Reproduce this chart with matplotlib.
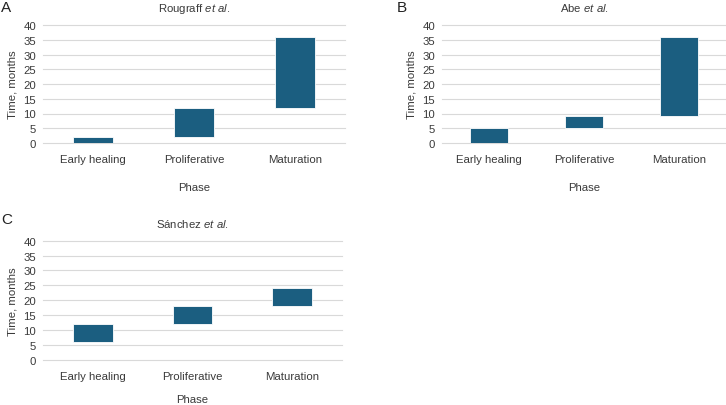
import matplotlib
matplotlib.use("Agg")
import matplotlib.pyplot as plt

plt.rcParams['font.family'] = ['Liberation Sans', 'DejaVu Sans']
plt.rcParams['mathtext.fontset'] = 'custom'
plt.rcParams['mathtext.rm'] = 'Liberation Sans'
plt.rcParams['mathtext.it'] = 'Liberation Sans:italic'

phases = ["Early healing", "Proliferative", "Maturation"]

# start / end of each phase, months
rougraff_start = [0, 2, 12]
rougraff_end = [2, 12, 36]
abe_start = [0, 5, 9]
abe_end = [5, 9, 36]
sanchez_start = [6, 12, 18]
sanchez_end = [12, 18, 24]

titles = [r"Rougraff $\it{et\ al.}$", r"Abe $\it{et\ al.}$", r"Sánchez $\it{et\ al.}$"]
letters = ["A", "B", "C"]
yticks = [0, 5, 10, 15, 20, 25, 30, 35, 40]

bar_color = "#1b5e80"
grid_color = "#d9d9d9"
text_color = "#3a3a3a"
fs = 8.2

W, H = 726, 406
fig = plt.figure(figsize=(W / 100, H / 100), dpi=100)

# axes boxes in pixels: left, right, top(y=40), bottom(y=0)
boxes = [(43, 345, 26, 144), (442, 726, 26, 144), (43, 342, 241.7, 360.7)]
data = [(rougraff_start, rougraff_end), (abe_start, abe_end), (sanchez_start, sanchez_end)]
letter_pos = [(1, 1), (397, 1), (1, 213)]
phase_pads = [13, 13, 9.5]

for i, ((l, r, t, b), (st, en)) in enumerate(zip(boxes, data)):
    ax = fig.add_axes([l / W, 1 - b / H, (r - l) / W, (b - t) / H])
    heights = [e - s for s, e in zip(st, en)]
    ax.bar(range(len(phases)), heights, bottom=st, width=0.4,
           color=bar_color, edgecolor="white", linewidth=0.6, zorder=3)
    ax.set_xlim(-0.5, 2.5)
    ax.set_ylim(0, 40)
    ax.set_yticks(yticks)
    ax.set_xticks(range(len(phases)))
    ax.set_xticklabels(phases)
    for y in yticks:
        ax.axhline(y, color=grid_color, linewidth=0.8, zorder=1, clip_on=False)
    for s in ax.spines.values():
        s.set_visible(False)
    ax.tick_params(length=0, labelsize=fs, colors=text_color, pad=5)
    ax.tick_params(axis='x', pad=8)
    ax.set_ylabel("Time, months", fontsize=fs, color=text_color, labelpad=4)
    ax.set_xlabel("Phase", fontsize=fs, color=text_color, labelpad=phase_pads[i])
    ax.set_title(titles[i], fontsize=fs, color=text_color, pad=10)
    lx, ly = letter_pos[i]
    fig.text(lx / W, 1 - ly / H, letters[i], fontsize=11, color="#222222",
             ha="left", va="top")

fig.savefig("out.png", dpi=100)
